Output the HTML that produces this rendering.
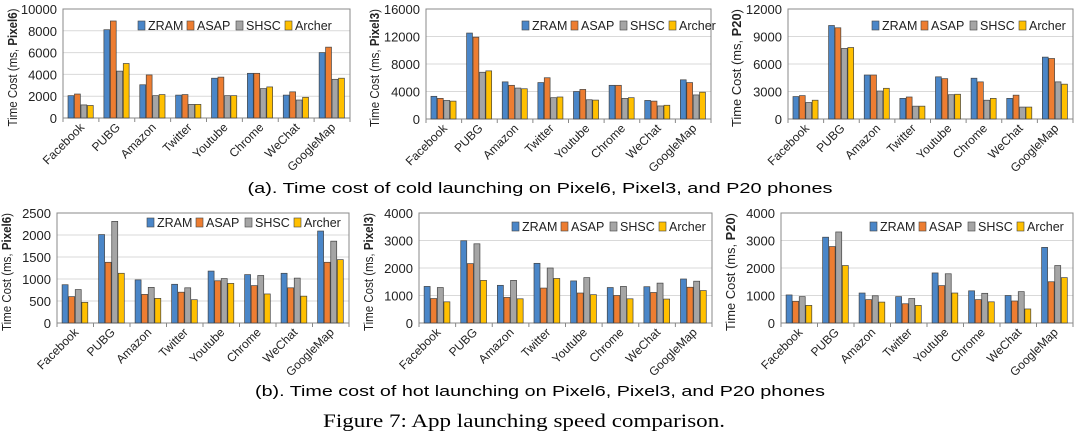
<!DOCTYPE html>
<html><head><meta charset="utf-8"><style>
body{margin:0;background:#fff;width:1080px;height:440px;overflow:hidden}
svg{display:block}
</style></head><body>
<svg id="fig" width="1080" height="440" viewBox="0 0 1080 440" xmlns="http://www.w3.org/2000/svg" font-family="'Liberation Sans', sans-serif">
<text x="540" y="193" text-anchor="middle" font-size="15" textLength="585" lengthAdjust="spacingAndGlyphs">(a). Time cost of cold launching on Pixel6, Pixel3, and P20 phones</text>
<text x="540" y="396" text-anchor="middle" font-size="15" textLength="570" lengthAdjust="spacingAndGlyphs">(b). Time cost of hot launching on Pixel6, Pixel3, and P20 phones</text>
<text x="524" y="427" text-anchor="middle" font-size="19" font-family="'Liberation Serif', serif" textLength="402" lengthAdjust="spacingAndGlyphs">Figure 7: App launching speed comparison.</text>
</svg>
<script>
const categories = ["Facebook","PUBG","Amazon","Twitter","Youtube","Chrome","WeChat","GoogleMap"];
const seriesNames = ["ZRAM","ASAP","SHSC","Archer"];
const coldPixel6 = [[2050,8100,3050,2100,3650,4100,2100,6000],[2200,8900,3950,2150,3750,4100,2400,6500],[1200,4300,2050,1250,2050,2700,1650,3550],[1150,5000,2150,1250,2050,2850,1900,3650]];
const coldPixel3 = [[3300,12500,5400,5300,4000,4900,2700,5700],[3000,11900,4900,6000,4300,4900,2600,5300],[2700,6800,4500,3100,2800,3000,1900,3500],[2600,7000,4400,3200,2750,3100,2000,3900]];
const coldP20 = [[2450,10200,4800,2250,4600,4450,2250,6750],[2550,9950,4800,2400,4400,4050,2600,6600],[1800,7700,3050,1400,2650,2050,1300,4050],[2050,7800,3350,1400,2700,2250,1300,3800]];
const hotPixel6 = [[870,2010,980,880,1180,1100,1130,2090],[600,1380,650,700,960,850,800,1380],[760,2310,810,800,1010,1080,1020,1860],[470,1130,560,530,900,660,610,1440]];
const hotPixel3 = [[1330,2990,1370,2170,1530,1290,1320,1600],[890,2160,930,1270,1090,1000,1110,1300],[1290,2880,1550,2000,1650,1330,1450,1520],[770,1550,880,1620,1030,880,870,1180]];
const hotP20 = [[1020,3120,1090,960,1820,1170,1000,2750],[790,2780,850,700,1360,850,800,1500],[960,3310,990,890,1790,1080,1140,2090],[640,2090,760,640,1090,770,510,1650]];
const ticksColdPixel6 = [0,2000,4000,6000,8000,10000];
const ticksColdPixel3 = [0,4000,8000,12000,16000];
const ticksColdP20 = [0,3000,6000,9000,12000];
const ticksHotPixel6 = [0,500,1000,1500,2000,2500];
const ticksHotPixel3 = [0,1000,2000,3000,4000];
const ticksHotP20 = [0,1000,2000,3000,4000];

const colors = ["#4a86c8","#ed7d31","#a5a5a5","#ffc000"];
const NS = "http://www.w3.org/2000/svg";
const svg = document.getElementById("fig");
function mk(tag, attrs, parent){const e=document.createElementNS(NS,tag);for(const k in attrs)e.setAttribute(k,attrs[k]);(parent||svg).appendChild(e);return e;}

function panel(name, data, ticks, device, box, legX, legY){
  const g = mk("g",{});
  
  
  const {l,r,t,b} = box;
  const max = ticks[ticks.length-1];
  const y = v => b - (v/max)*(b-t);
  const cw = (r-l)/categories.length;
  const x = i => l + i*cw;
  ticks.forEach(tv=>{
    if(tv>0){const gl=mk("line",{x1:l,x2:r,y1:y(tv),y2:y(tv),stroke:"#d9d9d9","stroke-width":1},g);
    
    }
    const tl=mk("text",{x:l-6,y:y(tv)+5,"text-anchor":"end","font-size":13,fill:"#222"},g);
    
    
    tl.textContent=tv;
  });
  const fr=mk("rect",{x:l,y:t,width:r-l,height:b-t,fill:"none",stroke:"#888","stroke-width":1},g);
  
  
  const bw = cw*0.18, gw = bw*4;
  data.forEach((ser,s)=>{
    ser.forEach((v,i)=>{
      const bx = x(i) + (cw-gw)/2 + s*bw;
      const br = mk("rect",{x:bx,y:y(v),width:bw-0.6,height:b-y(v),fill:colors[s],stroke:"#444","stroke-width":0.7},g);
      
      
    });
  });
  categories.forEach((c,i)=>{
    const tk=mk("line",{x1:x(i),x2:x(i),y1:b,y2:b+4,stroke:"#888"},g);
    
    
    const cx = x(i)+cw/2+4, cy=b+10;
    const tl=mk("text",{x:cx,y:cy,"text-anchor":"end","font-size":12,fill:"#222",transform:`rotate(-45 ${cx} ${cy})`},g);
    
    
    tl.textContent=c;
  });
  const ax=mk("line",{x1:r,x2:r,y1:b,y2:b+4,stroke:"#888"},g);
  
  
  const ty=(t+b)/2+4;
  const yt=mk("text",{x:box.titleX,y:ty,"text-anchor":"middle","font-size":13,fill:"#222",textLength:118,lengthAdjust:"spacingAndGlyphs",transform:`rotate(-90 ${box.titleX} ${ty})`},g);
  
  
  yt.innerHTML = `Time Cost (ms, <tspan font-weight="bold">${device}</tspan>)`;
  seriesNames.forEach((n,s)=>{
    const lx = legX + s*49;
    const lg=mk("g",{},g);
    
    
    mk("rect",{x:lx,y:legY-8,width:7,height:9,fill:colors[s],stroke:"#444","stroke-width":0.6},lg);
    const lt=mk("text",{x:lx+10,y:legY+1,"font-size":12.5,fill:"#222"},lg);
    lt.textContent=n;
  });
}
panel("chart-cold-pixel6", coldPixel6, ticksColdPixel6, "Pixel6", {l:63,r:350,t:9,b:118,titleX:17}, 138, 29);
panel("chart-cold-pixel3", coldPixel3, ticksColdPixel3, "Pixel3", {l:426,r:711,t:9,b:119,titleX:379}, 522, 29);
panel("chart-cold-p20", coldP20, ticksColdP20, "P20", {l:788,r:1073,t:9,b:119,titleX:741}, 872, 29);
panel("chart-hot-pixel6", hotPixel6, ticksHotPixel6, "Pixel6", {l:57,r:349,t:213,b:323,titleX:11}, 147, 226);
panel("chart-hot-pixel3", hotPixel3, ticksHotPixel3, "Pixel3", {l:419,r:712,t:213,b:323,titleX:373}, 512, 230);
panel("chart-hot-p20", hotP20, ticksHotP20, "P20", {l:781,r:1073,t:213,b:323,titleX:735}, 870, 230);
</script>
</body></html>
